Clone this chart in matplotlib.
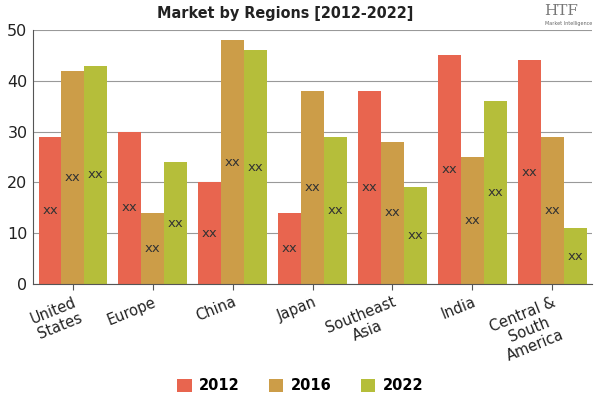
import matplotlib
matplotlib.use("Agg")
import matplotlib.pyplot as plt
import numpy as np

categories = ["United\nStates", "Europe", "China", "Japan", "Southeast\nAsia", "India", "Central &\nSouth\nAmerica"]
series_names = ["2012", "2016", "2022"]
v2012 = [29, 30, 20, 14, 38, 45, 44]
v2016 = [42, 14, 48, 38, 28, 25, 29]
v2022 = [43, 24, 46, 29, 19, 36, 11]
colors = ["#E8654F", "#CC9D48", "#B5BE3A"]

fig = plt.figure(figsize=(6, 4), dpi=100)
ax = fig.add_axes([0.055, 0.29, 0.932, 0.635])
x = np.arange(len(categories))
w = 0.287
for i, (vals, c, name) in enumerate(zip([v2012, v2016, v2022], colors, series_names)):
    pos = x + (i - 1) * w
    ax.bar(pos, vals, width=w, color=c, label=name, zorder=2)
    for p, v in zip(pos, vals):
        ax.text(p, v / 2, "xx", ha="center", va="center", fontsize=9.5, color="#333333", zorder=3)

ax.set_ylim(0, 50)
ax.set_xlim(-0.5, len(categories) - 0.5)
ax.set_yticks(range(0, 51, 10))
ax.yaxis.grid(True, color="#999999", linewidth=0.8, zorder=0)
ax.tick_params(axis="y", length=0, labelsize=11.5, colors="#222222", pad=4)
ax.tick_params(axis="x", length=4, color="#555555")
ax.set_xticks(x)
ax.set_xticklabels(categories, rotation=22, ha="right", rotation_mode="anchor", fontsize=10.5,
                   color="#222222", linespacing=1.15, multialignment="center")
for s in ["top", "right"]:
    ax.spines[s].set_visible(False)
ax.spines["left"].set_color("#555555")
ax.spines["bottom"].set_color("#555555")

fig.text(0.475, 0.966, "Market by Regions [2012-2022]", ha="center", va="center",
         fontsize=11.5, fontweight="bold", fontstretch="condensed", color="#222222")
fig.text(0.935, 0.972, "HTF", ha="center", va="center", fontsize=11, family="DejaVu Serif", color="#777777")
fig.text(0.948, 0.942, "Market Intelligence", ha="center", va="center", fontsize=3.5, color="#666666")

fig.legend(loc="center", bbox_to_anchor=(0.5, 0.035), ncol=3, frameon=False,
           handlelength=1.0, handleheight=1.0, columnspacing=2.0, handletextpad=0.5,
           prop={"weight": "bold", "size": 10.5})

fig.savefig("out.png", dpi=100)
